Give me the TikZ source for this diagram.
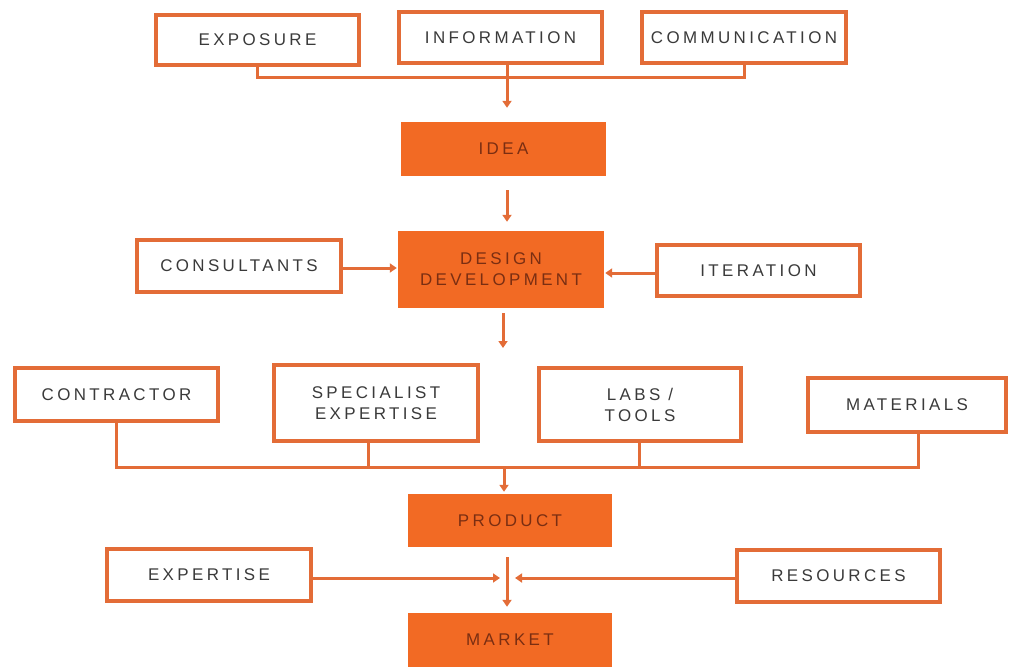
\documentclass[tikz,border=0pt]{standalone}
\usepackage{fontspec}
\usetikzlibrary{arrows.meta}
\newfontfamily\lblfont{Liberation Sans}[LetterSpace=20]
\definecolor{boxline}{HTML}{E36C37}
\definecolor{boxfill}{HTML}{F26A24}
\definecolor{wtext}{HTML}{3A3A3A}
\definecolor{ftext}{HTML}{7A2E12}
\begin{document}
\begin{tikzpicture}[x=1bp,y=-1bp,
  lbl/.style={font=\lblfont\fontsize{17}{21}\selectfont, align=center, inner sep=0pt},
  obox/.style={lbl, draw=boxline, line width=4bp, fill=white, text=wtext},
  fbox/.style={lbl, fill=boxfill, text=ftext},
  conn/.style={draw=boxline, line width=3bp},
  arr/.style={conn, -{Triangle[width=9bp,length=7bp]}}]
\useasboundingbox (0,0) rectangle (1010,669);
% top row
\node[obox, minimum width=203bp, minimum height=50bp] (expo) at (257.5,40) {EXPOSURE};
\node[obox, minimum width=203bp, minimum height=51bp] (info) at (500.5,37.5) {INFORMATION};
\node[obox, minimum width=204bp, minimum height=51bp] (comm) at (744,37.5) {COMMUNICATION};
\node[fbox, minimum width=205bp, minimum height=54bp] (idea) at (503.5,149) {IDEA};
% design row
\node[fbox, minimum width=206bp, minimum height=77bp] (design) at (501,269.5) {DESIGN\\DEVELOPMENT};
\node[obox, minimum width=204bp, minimum height=52bp] (cons) at (239,266) {CONSULTANTS};
\node[obox, minimum width=203bp, minimum height=51bp] (iter) at (758.5,270.5) {ITERATION};
% resources row
\node[obox, minimum width=203bp, minimum height=53bp] (contr) at (116.5,394.5) {CONTRACTOR};
\node[obox, minimum width=204bp, minimum height=76bp] (spec) at (376,403) {SPECIALIST\\EXPERTISE};
\node[obox, minimum width=202bp, minimum height=73bp] (labs) at (640,404.5) {LABS /\\TOOLS};
\node[obox, minimum width=198bp, minimum height=54bp] (mat) at (907,405) {MATERIALS};
\node[fbox, minimum width=204bp, minimum height=53bp] (prod) at (510,520.5) {PRODUCT};
% bottom
\node[obox, minimum width=204bp, minimum height=52bp] (exper) at (209,575) {EXPERTISE};
\node[obox, minimum width=203bp, minimum height=52bp] (res) at (838.5,576) {RESOURCES};
\node[fbox, minimum width=204bp, minimum height=54bp] (market) at (510,640) {MARKET};
% top connectors
\coordinate (tbus) at (507,78);
\draw[conn] (expo.south) |- (tbus) -| (comm.south);
\draw[arr, shorten >=14bp] (info.south -| tbus) -- (idea.north -| tbus);
\draw[arr, shorten <=14bp, shorten >=9bp] (idea.south -| tbus) -- (design.north -| tbus);
% design connectors
\draw[arr, shorten >=1bp] (cons.east |- 0,268) -- (design.west |- 0,268);
\draw[arr, shorten >=1bp] (iter.west |- 0,273) -- (design.east |- 0,273);
\coordinate (dd) at (503,348);
\draw[arr, shorten <=5bp] (design.south -| dd) -- (dd);
% product bus
\coordinate (jc) at (116.5,467);
\coordinate (js) at (368,467);
\coordinate (jl) at (639,467);
\coordinate (jm) at (918,467);
\coordinate (jp) at (504,467);
\draw[conn] (contr.south) -- (jc) -- (jm) -- (jm |- mat.south);
\draw[conn] (js |- spec.south) -- (js);
\draw[conn] (jl |- labs.south) -- (jl);
\draw[arr, shorten >=2bp] (jp) -- (prod.north -| jp);
% market
\coordinate (mj) at (507,578);
\draw[arr, shorten <=10bp, shorten >=6bp] (prod.south -| mj) -- (market.north -| mj);
\draw[arr, shorten >=7bp] (exper.east |- mj) -- (mj);
\draw[arr, shorten >=8bp] (res.west |- mj) -- (mj);
\end{tikzpicture}
\end{document}
